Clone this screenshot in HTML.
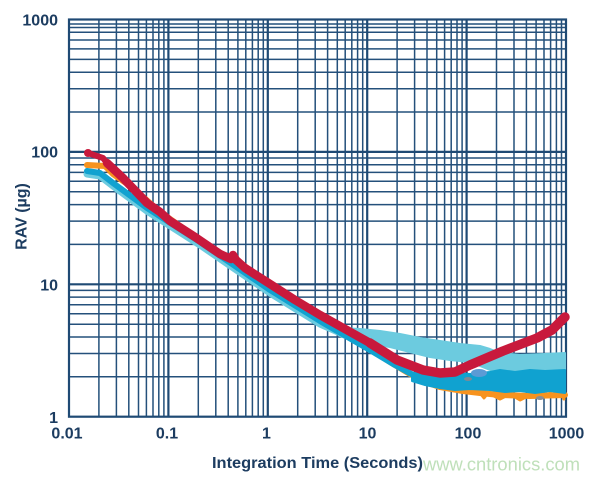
<!DOCTYPE html>
<html>
<head>
<meta charset="utf-8">
<style>
  html,body{margin:0;padding:0;background:#ffffff;}
  body{width:600px;height:481px;overflow:hidden;}
  svg{display:block;}
  .lbl{font-family:"Liberation Sans",Arial,sans-serif;font-weight:bold;font-size:16px;fill:#1c3c60;}
</style>
</head>
<body>
<svg width="600" height="481" viewBox="0 0 600 481" xmlns="http://www.w3.org/2000/svg">
  <rect width="600" height="481" fill="#ffffff"/>

  <!-- minor vertical grid -->
  <g stroke="#24507b" stroke-width="1.5" fill="none">
    <path d="M98.9,19.5V416.7 M116.4,19.5V416.7 M128.8,19.5V416.7 M138.5,19.5V416.7 M146.4,19.5V416.7 M153,19.5V416.7 M158.8,19.5V416.7 M163.9,19.5V416.7
             M198.3,19.5V416.7 M215.8,19.5V416.7 M228.2,19.5V416.7 M237.9,19.5V416.7 M245.8,19.5V416.7 M252.4,19.5V416.7 M258.2,19.5V416.7 M263.3,19.5V416.7
             M297.7,19.5V416.7 M315.2,19.5V416.7 M327.6,19.5V416.7 M337.3,19.5V416.7 M345.2,19.5V416.7 M351.8,19.5V416.7 M357.6,19.5V416.7 M362.7,19.5V416.7
             M397.1,19.5V416.7 M414.6,19.5V416.7 M427,19.5V416.7 M436.7,19.5V416.7 M444.6,19.5V416.7 M451.2,19.5V416.7 M457,19.5V416.7 M462.1,19.5V416.7
             M496.5,19.5V416.7 M514,19.5V416.7 M526.4,19.5V416.7 M536.1,19.5V416.7 M544,19.5V416.7 M550.6,19.5V416.7 M556.4,19.5V416.7 M561.5,19.5V416.7"/>
    <!-- minor horizontal grid -->
    <path d="M69,24H566 M69,27.5H566 M69,32.3H566 M69,40H566 M69,48.9H566 M69,59.4H566 M69,72.2H566 M69,88.7H566 M69,112H566
             M69,158H566 M69,164.7H566 M69,172.4H566 M69,181.3H566 M69,191.8H566 M69,204.6H566 M69,221.1H566 M69,244.4H566
             M69,290.4H566 M69,297.1H566 M69,304.8H566 M69,313.7H566 M69,324.2H566 M69,337H566 M69,353.5H566 M69,376.8H566"/>
  </g>
  <!-- major grid -->
  <g stroke="#1f4a74" stroke-width="2.2" fill="none">
    <path d="M168.4,19.5V416.7 M267.8,19.5V416.7 M367.2,19.5V416.7 M466.6,19.5V416.7 M69,151.9H566 M69,284.3H566"/>
    <rect x="69" y="19.5" width="497" height="397.2"/>
  </g>

  <!-- light cyan series -->
  <g fill="none" stroke-linejoin="round" stroke-linecap="round">
    <polygon fill="#6ccbdf" stroke="#6ccbdf" stroke-width="2" points="340,328 360,329 380,331 400,334 420,338 440,341 460,344 480,346 490,349 500,353 520,355 545,354 565,353 565,378 540,377 520,376 500,374 485,368 470,362 450,360 430,357 410,352 390,347 370,344 350,340 340,336"/>
    <polyline stroke="#6ccbdf" stroke-width="7" points="87,174 100,176 113,186 147,211 200,245 270,293 320,324 345,335 360,338"/>
  </g>

  <!-- orange series -->
  <g fill="none" stroke-linejoin="round" stroke-linecap="round">
    <polyline stroke="#f7931e" stroke-width="6" points="87,165 105,166 113,174 133,188 160,212 190,233 215,250 250,273 300,304 330,322 350,335 370,349 390,362 410,374 425,382 440,387 463,391 480,393 500,395 530,396 565,395"/>
    <polyline stroke="#f7931e" stroke-width="3" points="480,393 484,398 488,393 500,399 510,394 520,400 532,394 540,388 547,386 552,396 560,390 564,399"/>
  </g>

  <!-- dark cyan series -->
  <g fill="none" stroke-linejoin="round" stroke-linecap="round">
    <polyline stroke="#10a2d0" stroke-width="6" points="87,171 100,173 113,183 147,208 200,242 270,290 320,321 370,350 395,365 415,376 440,381"/>
    <polygon fill="#10a2d0" stroke="#10a2d0" stroke-width="2" points="412,373 430,372 450,373 470,374 490,372 500,370 515,372 530,370 545,371 565,370 565,393 550,391 535,393 520,391 505,392 490,390 470,389 455,390 440,388 425,385 412,381"/>
  </g>

  <!-- misc blue/gray specks -->
  <ellipse cx="479" cy="373" rx="8" ry="4" fill="#5b9bd5"/>
  <ellipse cx="468" cy="379" rx="4" ry="2" fill="#7d8a96"/>
  <ellipse cx="540" cy="398" rx="4" ry="2" fill="#8a8f94"/>

  <!-- red series -->
  <g fill="none" stroke="#c8193c" stroke-linejoin="round" stroke-linecap="round">
    <polyline stroke-width="6" points="88,153 103,158 107,163 123,178"/>
    <polyline stroke-width="8.5" points="107,163 123,178 147,203 160,212 170,221 195,237 220,254 231,259 233,255 236,260 245,268 270,284 295,300 320,315 345,329 370,343"/>
    <polyline stroke-width="9.5" points="370,343 397,360 423,370 440,373 455,372 470,365 503,351 537,338 552,330 565,317"/>
  </g>
  <circle cx="88" cy="153" r="4" fill="#c8193c"/>

  <!-- y tick labels -->
  <text class="lbl" x="58" y="25.5" text-anchor="end">1000</text>
  <text class="lbl" x="58" y="157.5" text-anchor="end">100</text>
  <text class="lbl" x="58" y="290.5" text-anchor="end">10</text>
  <text class="lbl" x="58" y="423" text-anchor="end">1</text>

  <!-- x tick labels -->
  <text class="lbl" x="67" y="438.5" text-anchor="middle">0.01</text>
  <text class="lbl" x="167" y="438.5" text-anchor="middle">0.1</text>
  <text class="lbl" x="266.5" y="438.5" text-anchor="middle">1</text>
  <text class="lbl" x="367.5" y="438.5" text-anchor="middle">10</text>
  <text class="lbl" x="468" y="438.5" text-anchor="middle">100</text>
  <text class="lbl" x="566.5" y="438.5" text-anchor="middle">1000</text>

  <!-- axis titles -->
  <text class="lbl" x="212" y="468" textLength="211" lengthAdjust="spacingAndGlyphs">Integration Time (Seconds)</text>
  <text class="lbl" transform="translate(26.7,216.5) rotate(-90)" text-anchor="middle">RAV (µg)</text>

  <!-- watermark -->
  <text x="423" y="470.5" textLength="157" lengthAdjust="spacingAndGlyphs" style="font-family:'Liberation Sans',Arial,sans-serif;font-size:18px;fill:#bfe0ba;">www.cntronics.com</text>
</svg>
</body>
</html>
